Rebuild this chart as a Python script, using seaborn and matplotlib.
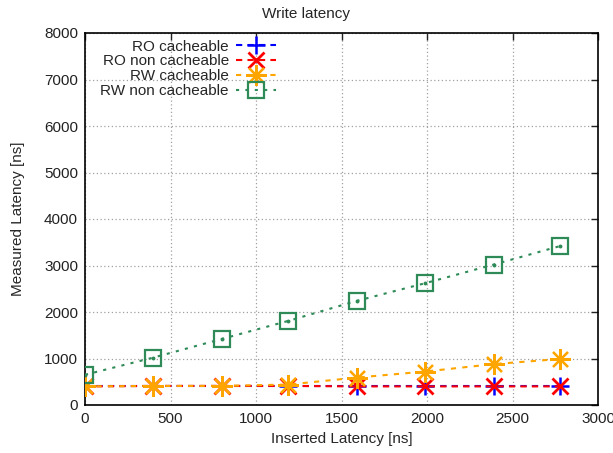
import matplotlib
matplotlib.use("Agg")
import matplotlib.pyplot as plt
import seaborn as sns
import pandas as pd

inserted = [0, 400, 800, 1190, 1590, 1990, 2390, 2780]
ro_cacheable = [400, 400, 400, 400, 400, 400, 400, 400]
ro_non_cacheable = [400, 410, 410, 410, 400, 400, 400, 400]
rw_cacheable = [400, 410, 410, 440, 590, 720, 880, 990]
rw_non_cacheable = [650, 1020, 1420, 1810, 2240, 2620, 3020, 3420]

series_names = ["RO cacheable", "RO non cacheable", "RW cacheable", "RW non cacheable"]
series_values = [ro_cacheable, ro_non_cacheable, rw_cacheable, rw_non_cacheable]

sns.set_theme(style="white")
plt.rcParams["font.family"] = ["Liberation Sans", "DejaVu Sans"]

styles = {
    "RO cacheable": dict(color="#0000ff", marker="+", ms=13, mew=1.8, mfc="none", dashes=(3, 2.5)),
    "RO non cacheable": dict(color="#ff0000", marker="x", ms=11, mew=2.0, mfc="none", dashes=(3, 2.5)),
    "RW cacheable": dict(color="#ffa500", marker=(8, 2, 0), ms=15, mew=1.6, mfc="none", dashes=(2.5, 3)),
    "RW non cacheable": dict(color="#2e8b57", marker="s", ms=11, mew=1.6, mfc="none", dashes=(1.5, 3)),
}

fig = plt.figure(figsize=(6.13, 4.53), dpi=100)
ax = fig.add_axes([85 / 613, 1 - 405 / 453, 513 / 613, 372 / 453])

frames = []
for name, vals in zip(series_names, series_values):
    frames.append(pd.DataFrame({"x": inserted, "y": vals, "series": name}))
df = pd.concat(frames, ignore_index=True)

for name in series_names:
    st = styles[name]
    sub = df[df["series"] == name]
    sns.lineplot(data=sub, x="x", y="y", ax=ax, color=st["color"], marker=st["marker"],
                 markersize=st["ms"], markeredgewidth=st["mew"], markerfacecolor=st["mfc"],
                 markeredgecolor=st["color"], dashes=st["dashes"], linewidth=1.5,
                 label=name, zorder=3)
    if name == "RW non cacheable":
        ax.plot(sub["x"], sub["y"], ls="none", marker="o", ms=1.8, color=st["color"], zorder=4)

ax.set_xlim(0, 3000)
ax.set_ylim(0, 8000)
ax.set_xticks(range(0, 3001, 500))
ax.set_yticks(range(0, 8001, 1000))
ax.grid(True, color="#a0a0a0", linestyle=(0, (1, 2)), linewidth=0.9)
ax.tick_params(direction="in", length=5, width=1, top=True, right=True,
               labelsize=11, colors="#222222", pad=5)
for sp in ax.spines.values():
    sp.set_color("black")
    sp.set_linewidth(1.2)

ax.set_xlabel("Inserted Latency [ns]", fontsize=11, labelpad=4)
ax.set_ylabel("Measured Latency [ns]", fontsize=11, labelpad=14)
fig.suptitle("Write latency", fontsize=11, y=0.985)

leg = ax.legend(loc="upper left", bbox_to_anchor=(0.012, 1.007), markerfirst=False, frameon=False,
                fontsize=11, handlelength=2.6, handletextpad=0.5, labelspacing=0.05,
                borderaxespad=0.2)

fig.savefig("out.png", dpi=100)
